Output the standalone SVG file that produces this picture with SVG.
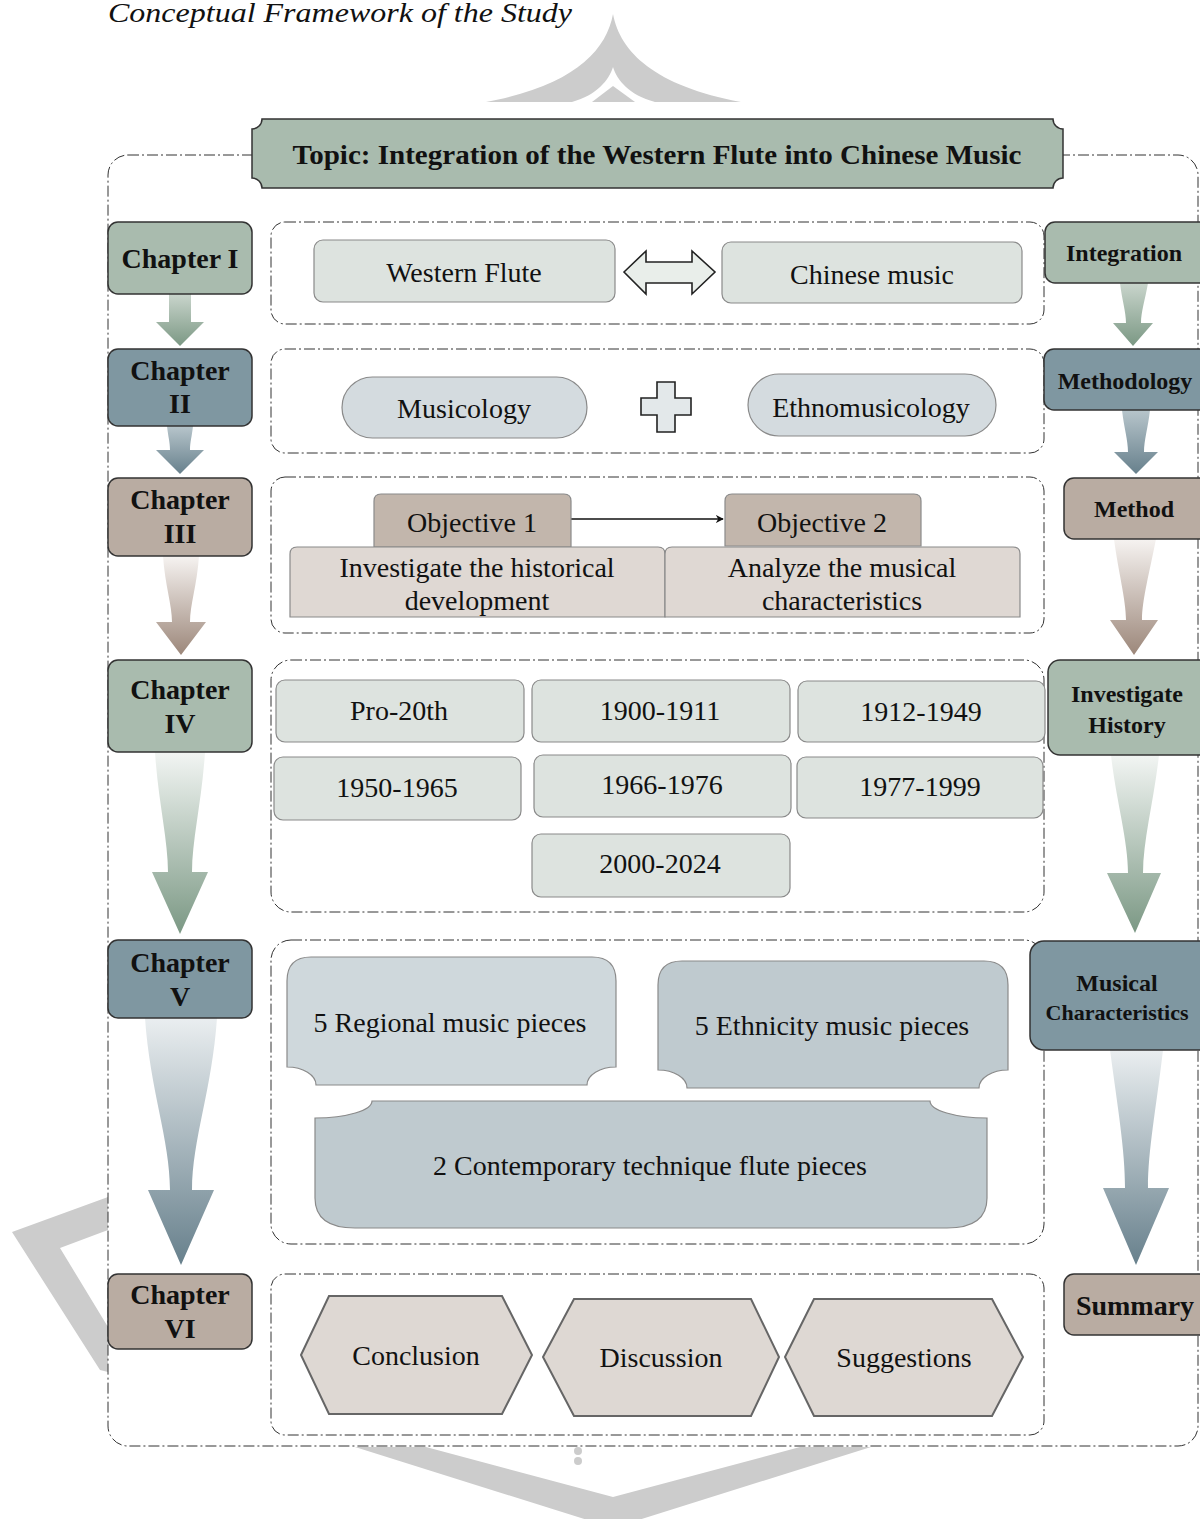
<svg xmlns="http://www.w3.org/2000/svg" width="1200" height="1519" viewBox="0 0 1200 1519">
<style>
text{font-family:"Liberation Serif","Times New Roman",serif;fill:#111;text-anchor:middle}
.b{font-weight:bold}
.t28{font-size:28px}
.t24{font-size:24px}
.wm{fill:#cccccc}
.box{fill:none;stroke:#333;stroke-width:1;stroke-dasharray:11 3 2 3}
.chap{stroke:#333;stroke-width:1.5}
.sage{fill:#a9bbae}
.slate{fill:#7f97a1}
.taupe{fill:#b9aca2}
.lt{fill:#dde3df;stroke:#8a8a8a;stroke-width:1.2}
.pill{fill:#d4dbdf;stroke:#8a8a8a;stroke-width:1.2}
.obj{fill:#c2b6ac;stroke:#8a8a8a;stroke-width:1.2}
.desc{fill:#dfd8d3;stroke:#8a8a8a;stroke-width:1.2}
.hex{fill:#ded8d3;stroke:#666;stroke-width:2}
</style>
<defs>
<linearGradient id="gSage" x1="0" y1="0" x2="0" y2="1"><stop offset="0" stop-color="#f2f5f3"/><stop offset="1" stop-color="#7b9884"/></linearGradient>
<linearGradient id="gSlate" x1="0" y1="0" x2="0" y2="1"><stop offset="0" stop-color="#eaeef0"/><stop offset="1" stop-color="#67808c"/></linearGradient>
<linearGradient id="gTaupe" x1="0" y1="0" x2="0" y2="1"><stop offset="0" stop-color="#f6f3f1"/><stop offset="1" stop-color="#9c877a"/></linearGradient>
<linearGradient id="gSageS" x1="0" y1="0" x2="0" y2="1"><stop offset="0" stop-color="#c9d5cc"/><stop offset="1" stop-color="#7b9884"/></linearGradient>
<linearGradient id="gSlateS" x1="0" y1="0" x2="0" y2="1"><stop offset="0" stop-color="#b7c5cb"/><stop offset="1" stop-color="#67808c"/></linearGradient>
<marker id="ah" viewBox="0 0 10 10" refX="9" refY="5" markerWidth="8" markerHeight="8" markerUnits="userSpaceOnUse" orient="auto"><path d="M0,0 L10,5 L0,10 L3,5 Z" fill="#111"/></marker>
</defs>

<!-- watermark -->
<g id="watermark">
<path class="wm" d="M613,14 C606,52 572,86 486,102 L741,102 C655,86 620,52 613,14 Z"/>
<path fill="#fff" d="M613,67 C609,80 597,95 572,102 L655,102 C629,95 617,80 613,67 Z"/>
<path class="wm" d="M613,86 L592,102 L635,102 Z"/>
<path class="wm" d="M108,1197 L12,1232 L100,1370 L108,1372 L108,1327 L60,1248 L108,1230 Z"/>
<path class="wm" d="M355,1447 L613,1528 L871,1447 L800,1447 L613,1497 L426,1447 Z"/>
<circle class="wm" cx="578" cy="1451" r="4"/>
<circle class="wm" cx="578" cy="1461" r="4"/>
</g>

<text x="108" y="22" style="font-size:28px;font-style:italic;text-anchor:start" textLength="464" lengthAdjust="spacingAndGlyphs">Conceptual Framework of the Study</text>

<!-- outer frame -->
<rect class="box" x="108" y="155" width="1090" height="1291" rx="20"/>

<!-- row containers -->
<g id="containers">
<rect class="box" x="271" y="222" width="773" height="102" rx="14"/>
<rect class="box" x="271" y="349" width="773" height="104" rx="14"/>
<rect class="box" x="271" y="477" width="773" height="156" rx="14"/>
<rect class="box" x="271" y="660" width="773" height="252" rx="20"/>
<rect class="box" x="271" y="940" width="773" height="304" rx="20"/>
<rect class="box" x="271" y="1274" width="773" height="161" rx="14"/>
</g>

<!-- topic banner -->
<g id="topic">
<path d="M262,119 L1053,119 A10,10 0 0 0 1063,129 L1063,178 A10,10 0 0 0 1053,188 L262,188 A10,10 0 0 0 252,178 L252,129 A10,10 0 0 0 262,119 Z" fill="#a9bbae" stroke="#333" stroke-width="1.5"/>
<text class="b" x="657" y="164" style="font-size:27px" textLength="729" lengthAdjust="spacingAndGlyphs">Topic: Integration of the Western Flute into Chinese Music</text>
</g>

<!-- connectors -->
<g id="connectors">
<path fill="url(#gSageS)" d="M169,294 L169,322 L156,322 L180,346 L204,322 L191,322 L191,294 Z"/>
<path fill="url(#gSlateS)" d="M167,426 C168,436 170,442 170,450 L156,450 L180,474 L204,450 L190,450 C190,442 192,436 193,426 Z"/>
<path fill="url(#gTaupe)" d="M163,556 C165,585 172,605 172,622 L156,622 L181,655 L206,622 L190,622 C190,605 197,585 199,556 Z"/>
<path fill="url(#gSage)" d="M155,752 C158,800 168,840 168,872 L152,872 L180,934 L208,872 L192,872 C192,840 202,800 205,752 Z"/>
<path fill="url(#gSlate)" d="M145,1018 C150,1090 170,1140 170,1190 L148,1190 L181,1265 L214,1190 L192,1190 C192,1140 212,1090 217,1018 Z"/>

<path fill="url(#gSageS)" d="M1120,283 C1122,300 1126,312 1126,323 L1113,323 L1133,346 L1153,323 L1141,323 C1141,312 1145,300 1148,283 Z"/>
<path fill="url(#gSlateS)" d="M1122,410 C1124,428 1128,440 1128,452 L1114,452 L1136,474 L1158,452 L1144,452 C1144,440 1148,428 1150,410 Z"/>
<path fill="url(#gTaupe)" d="M1114,539 C1118,570 1126,600 1126,620 L1110,620 L1134,655 L1158,620 L1142,620 C1142,600 1150,570 1156,539 Z"/>
<path fill="url(#gSage)" d="M1111,755 C1116,800 1128,840 1128,873 L1107,873 L1135,933 L1161,873 L1143,873 C1143,840 1154,800 1159,755 Z"/>
<path fill="url(#gSlate)" d="M1110,1050 C1118,1110 1125,1150 1125,1188 L1103,1188 L1136,1265 L1169,1188 L1148,1188 C1148,1150 1156,1110 1163,1050 Z"/>

<line x1="571" y1="519" x2="723" y2="519" stroke="#111" stroke-width="1.5" marker-end="url(#ah)"/>
</g>

<!-- left chapter nodes -->
<g id="ch1"><rect class="chap sage" x="108" y="222" width="144" height="72" rx="10"/><text class="b t28" x="180" y="268">Chapter I</text></g>
<g id="ch2"><rect class="chap slate" x="108" y="349" width="144" height="77" rx="10"/><text class="b t28" x="180" y="380">Chapter</text><text class="b t28" x="180" y="413">II</text></g>
<g id="ch3"><rect class="chap taupe" x="108" y="478" width="144" height="78" rx="10"/><text class="b t28" x="180" y="509">Chapter</text><text class="b t28" x="180" y="543">III</text></g>
<g id="ch4"><rect class="chap sage" x="108" y="660" width="144" height="92" rx="10"/><text class="b t28" x="180" y="699">Chapter</text><text class="b t28" x="180" y="733">IV</text></g>
<g id="ch5"><rect class="chap slate" x="108" y="940" width="144" height="78" rx="10"/><text class="b t28" x="180" y="972">Chapter</text><text class="b t28" x="180" y="1006">V</text></g>
<g id="ch6"><rect class="chap taupe" x="108" y="1274" width="144" height="75" rx="10"/><text class="b t28" x="180" y="1304">Chapter</text><text class="b t28" x="180" y="1338">VI</text></g>

<!-- right nodes -->
<g id="integration"><rect class="chap sage" x="1045" y="222" width="170" height="61" rx="10"/><text class="b t24" x="1124" y="261">Integration</text></g>
<g id="methodology"><rect class="chap slate" x="1044" y="349" width="170" height="61" rx="10"/><text class="b t24" x="1125" y="389">Methodology</text></g>
<g id="method"><rect class="chap taupe" x="1064" y="478" width="150" height="61" rx="10"/><text class="b t24" x="1134" y="517">Method</text></g>
<g id="investigate"><rect class="chap sage" x="1048" y="660" width="165" height="95" rx="12"/><text class="b t24" x="1127" y="702">Investigate</text><text class="b t24" x="1127" y="733">History</text></g>
<g id="musical"><rect class="chap slate" x="1030" y="941" width="185" height="109" rx="14"/><text class="b t24" x="1117" y="991">Musical</text><text class="b" x="1117" y="1020" style="font-size:22px">Characteristics</text></g>
<g id="summary"><rect class="chap taupe" x="1064" y="1274" width="150" height="61" rx="10"/><text class="b t28" x="1135" y="1315">Summary</text></g>

<!-- row 1 -->
<g id="western-flute"><rect class="lt" x="314" y="240" width="301" height="62" rx="9"/><text class="t28" x="464" y="282">Western Flute</text></g>
<g id="double-arrow"><path d="M624,272 L646,251 L646,262 L692,262 L692,251 L715,272 L692,294 L692,283 L646,283 L646,294 Z" fill="#e9eeea" stroke="#222" stroke-width="1.6"/></g>
<g id="chinese-music"><rect class="lt" x="722" y="242" width="300" height="61" rx="9"/><text class="t28" x="872" y="284">Chinese music</text></g>

<!-- row 2 -->
<g id="musicology"><rect class="pill" x="342" y="377" width="245" height="61" rx="30.5"/><text class="t28" x="464" y="418">Musicology</text></g>
<g id="plus"><path d="M657,382 L675,382 L675,398 L691,398 L691,415 L675,415 L675,432 L657,432 L657,415 L641,415 L641,398 L657,398 Z" fill="#e3e8ea" stroke="#222" stroke-width="1.6"/></g>
<g id="ethnomusicology"><rect class="pill" x="748" y="374" width="248" height="62" rx="31"/><text class="t28" x="871" y="417">Ethnomusicology</text></g>

<!-- row 3 -->
<g id="objective1">
<path class="obj" d="M374,547 L374,501 Q374,494 381,494 L564,494 Q571,494 571,501 L571,547 Z"/>
<text class="t28" x="472" y="532">Objective 1</text>
<path class="desc" d="M290,617 L290,554 Q290,547 297,547 L658,547 Q665,547 665,554 L665,617 Z"/>
<text class="t28" x="477" y="577">Investigate the historical</text>
<text class="t28" x="477" y="610">development</text>
</g>
<g id="objective2">
<path class="obj" d="M725,546 L725,501 Q725,494 732,494 L914,494 Q921,494 921,501 L921,546 Z"/>
<text class="t28" x="822" y="532">Objective 2</text>
<path class="desc" d="M665,617 L665,554 Q665,547 672,547 L1013,547 Q1020,547 1020,554 L1020,617 Z"/>
<text class="t28" x="842" y="577">Analyze the musical</text>
<text class="t28" x="842" y="610">characteristics</text>
</g>

<!-- row 4 -->
<g id="p-pro20"><rect class="lt" x="276" y="680" width="248" height="62" rx="9"/><text class="t28" x="399" y="720">Pro-20th</text></g>
<g id="p-1900"><rect class="lt" x="532" y="680" width="258" height="62" rx="9"/><text class="t28" x="660" y="720">1900-1911</text></g>
<g id="p-1912"><rect class="lt" x="798" y="681" width="247" height="61" rx="9"/><text class="t28" x="921" y="721">1912-1949</text></g>
<g id="p-1950"><rect class="lt" x="274" y="757" width="247" height="63" rx="9"/><text class="t28" x="397" y="797">1950-1965</text></g>
<g id="p-1966"><rect class="lt" x="534" y="755" width="257" height="62" rx="9"/><text class="t28" x="662" y="794">1966-1976</text></g>
<g id="p-1977"><rect class="lt" x="797" y="757" width="246" height="61" rx="9"/><text class="t28" x="920" y="796">1977-1999</text></g>
<g id="p-2000"><rect class="lt" x="532" y="834" width="258" height="63" rx="9"/><text class="t28" x="660" y="873">2000-2024</text></g>

<!-- row 5 -->
<g id="regional">
<path d="M287,981 Q287,957 311,957 L592,957 Q616,957 616,981 L616,1067 A29,18 0 0 0 587,1085 L316,1085 A29,18 0 0 0 287,1067 Z" fill="#cfd8dc" stroke="#8a8a8a" stroke-width="1.2"/>
<text class="t28" x="450" y="1032">5 Regional music pieces</text>
</g>
<g id="ethnicity">
<path d="M658,985 Q658,961 682,961 L984,961 Q1008,961 1008,985 L1008,1070 A29,18 0 0 0 979,1088 L687,1088 A29,18 0 0 0 658,1070 Z" fill="#bfcacf" stroke="#8a8a8a" stroke-width="1.2"/>
<text class="t28" x="832" y="1035">5 Ethnicity music pieces</text>
</g>
<g id="contemporary">
<path d="M372,1101 L930,1101 A57,17 0 0 0 987,1118 L987,1198 Q987,1228 947,1228 L355,1228 Q315,1228 315,1198 L315,1118 A57,17 0 0 0 372,1101 Z" fill="#bfcacf" stroke="#8a8a8a" stroke-width="1.2"/>
<text class="t28" x="650" y="1175">2 Contemporary technique flute pieces</text>
</g>

<!-- row 6 -->
<g id="conclusion"><path class="hex" d="M301,1355 L329,1296 L502,1296 L532,1355 L502,1414 L329,1414 Z"/><text class="t28" x="416" y="1365">Conclusion</text></g>
<g id="discussion"><path class="hex" d="M543,1357 L574,1299 L751,1299 L779,1357 L751,1416 L574,1416 Z"/><text class="t28" x="661" y="1367">Discussion</text></g>
<g id="suggestions"><path class="hex" d="M785,1357 L814,1299 L992,1299 L1023,1357 L992,1416 L814,1416 Z"/><text class="t28" x="904" y="1367">Suggestions</text></g>
</svg>
